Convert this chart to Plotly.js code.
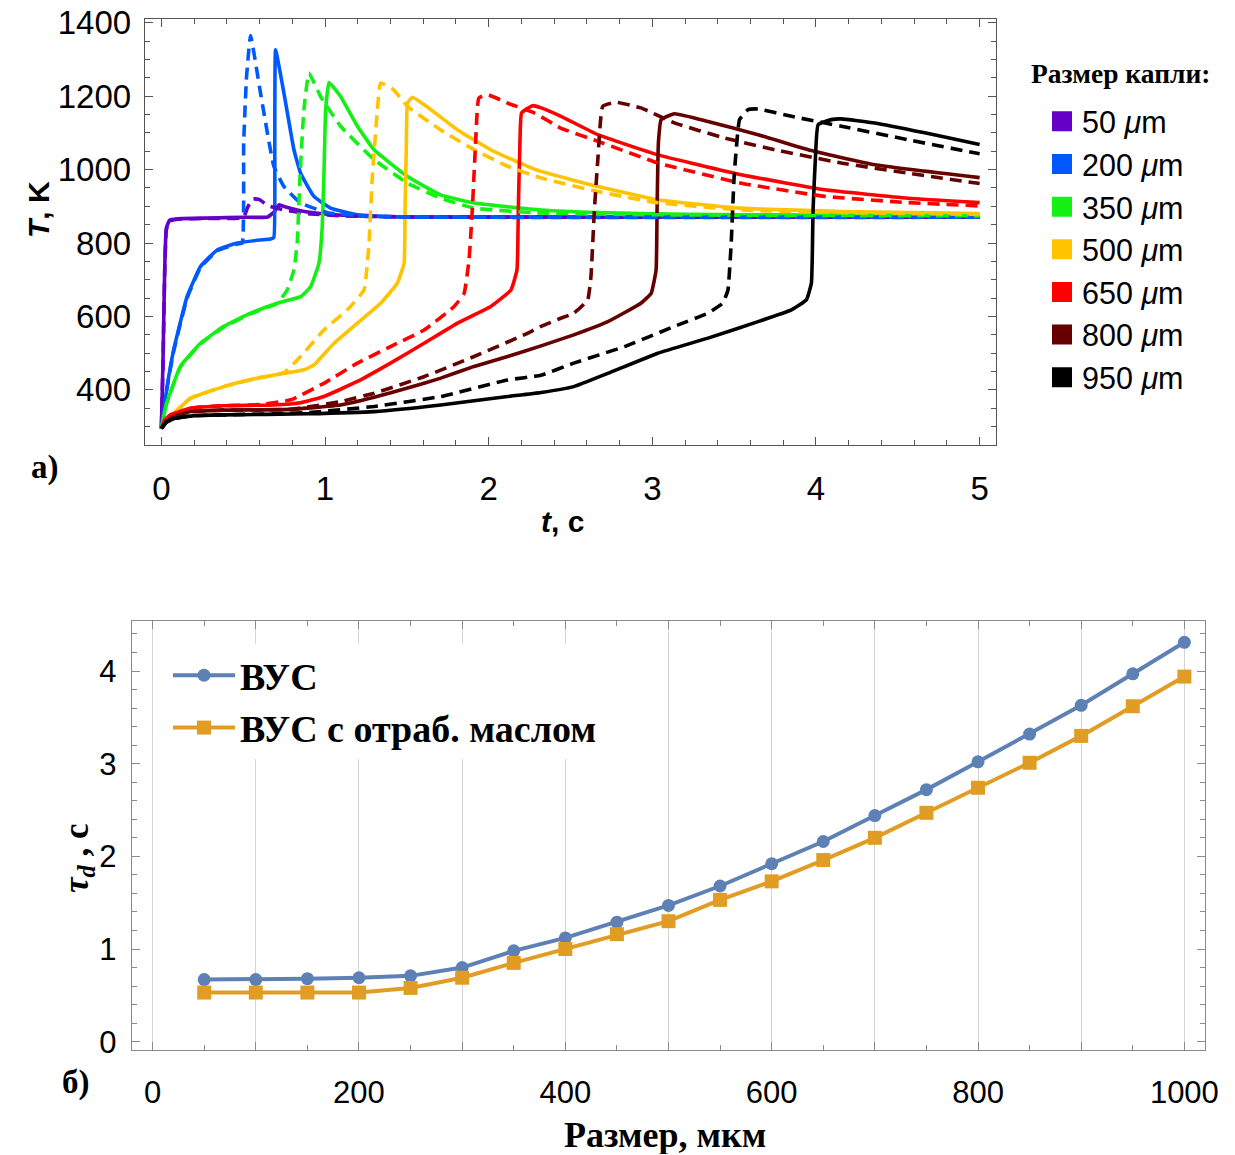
<!DOCTYPE html>
<html><head><meta charset="utf-8">
<script src="https://cdn.plot.ly/plotly-3.0.1.min.js"></script>
<style>html,body{margin:0;padding:0;background:#fff}</style>
</head><body><div id="chart" style="width:1235px;height:1155px"></div>
<script>
// ---------- Panel a) : droplet temperature vs time ----------
var sizes = ['50', '200', '350', '500', '650', '800', '950'];
var colors = ['#6400C8', '#0059FF', '#14F014', '#FFC300', '#FF0000', '#660000', '#000000'];

var t50s = [0, 0.01, 0.02, 0.03, 0.05, 0.1, 0.3, 0.5, 0.65, 0.69, 0.72, 0.76, 0.85, 1.0, 1.2, 1.5, 5.0];
var T50s = [295, 480, 720, 840, 862, 866, 868, 870, 871, 885, 904, 898, 888, 879, 874, 871, 870];
var t50d = [0, 0.01, 0.02, 0.03, 0.05, 0.1, 0.3, 0.5, 0.53, 0.56, 0.6, 0.65, 0.75, 0.9, 1.1, 1.5, 5.0];
var T50d = [295, 470, 710, 835, 860, 865, 867, 869, 900, 920, 918, 902, 890, 880, 874, 871, 870];

var t200s = [0, 0.035, 0.075, 0.157, 0.239, 0.341, 0.463, 0.6, 0.667, 0.687, 0.693, 0.698, 0.749, 0.81, 0.851, 0.932, 1.034, 1.2, 1.5, 2.0, 5.0];
var T200s = [295, 409, 509, 654, 736, 781, 800, 808, 811, 815, 1072, 1326, 1208, 1054, 990, 927, 895, 877, 871, 870, 870];
var t200d = [0, 0.035, 0.075, 0.157, 0.239, 0.341, 0.463, 0.494, 0.503, 0.52, 0.545, 0.606, 0.687, 0.749, 0.851, 1.02, 1.3, 2.0, 5.0];
var T200d = [295, 406, 505, 650, 733, 779, 797, 800, 1072, 1250, 1365, 1208, 1009, 954, 909, 882, 872, 870, 870];

var t350s = [0, 0.03, 0.116, 0.239, 0.381, 0.545, 0.708, 0.851, 0.912, 0.963, 0.983, 0.993, 1.004, 1.024, 1.095, 1.198, 1.30, 1.504, 1.707, 1.911, 2.32, 2.67, 3.2, 4.0, 5.0];
var T350s = [295, 360, 464, 527, 573, 609, 636, 654, 681, 745, 845, 981, 1163, 1237, 1199, 1118, 1054, 981, 931, 909, 890, 883, 878, 876, 875];
var t350d = [0, 0.03, 0.116, 0.239, 0.381, 0.545, 0.708, 0.769, 0.81, 0.83, 0.847, 0.871, 0.902, 0.973, 1.095, 1.30, 1.504, 1.707, 1.911, 2.3, 3.0, 4.0, 5.0];
var T350d = [295, 360, 462, 525, 571, 607, 636, 672, 727, 800, 981, 1163, 1263, 1199, 1118, 1027, 963, 922, 895, 882, 877, 875, 874];

var t500s = [0, 0.02, 0.055, 0.177, 0.381, 0.586, 0.749, 0.871, 0.932, 1.055, 1.198, 1.34, 1.442, 1.483, 1.489, 1.497, 1.504, 1.534, 1.605, 1.81, 2.013, 2.217, 2.32, 2.667, 3.03, 3.54, 4.155, 5.0];
var T500s = [295, 315, 327, 377, 409, 432, 445, 455, 468, 527, 582, 636, 691, 745, 890, 1072, 1181, 1197, 1177, 1108, 1054, 1013, 995, 954, 918, 895, 886, 880];
var t500d = [0, 0.02, 0.055, 0.177, 0.381, 0.586, 0.749, 0.851, 0.993, 1.136, 1.238, 1.269, 1.289, 1.32, 1.34, 1.42, 1.504, 1.707, 1.911, 2.116, 2.32, 2.667, 3.03, 3.54, 4.155, 5.0];
var T500d = [295, 315, 327, 377, 409, 432, 447, 491, 563, 618, 672, 800, 981, 1163, 1236, 1217, 1172, 1108, 1054, 1009, 977, 940, 910, 890, 883, 878];

var t650s = [0, 0.02, 0.055, 0.177, 0.381, 0.687, 0.851, 0.993, 1.198, 1.40, 1.605, 1.81, 2.013, 2.136, 2.173, 2.181, 2.191, 2.201, 2.268, 2.32, 2.442, 2.667, 3.034, 3.543, 4.053, 4.564, 5.0];
var T650s = [295, 318, 332, 350, 357, 359, 365, 382, 423, 473, 527, 582, 627, 672, 727, 890, 1072, 1154, 1174, 1168, 1145, 1095, 1040, 986, 945, 922, 910];
var t650d = [0, 0.02, 0.055, 0.177, 0.381, 0.6, 0.79, 0.993, 1.198, 1.40, 1.605, 1.789, 1.85, 1.88, 1.90, 1.92, 1.94, 1.993, 2.116, 2.28, 2.44, 2.667, 3.034, 3.543, 4.053, 4.564, 5.0];
var T650d = [295, 318, 332, 350, 357, 360, 373, 418, 473, 518, 563, 627, 663, 754, 890, 1072, 1195, 1204, 1181, 1154, 1113, 1077, 1018, 963, 927, 910, 901];

var t800s = [0, 0.03, 0.08, 0.177, 0.381, 0.79, 1.095, 1.30, 1.504, 1.707, 1.911, 2.116, 2.32, 2.52, 2.728, 2.93, 2.993, 3.023, 3.029, 3.037, 3.054, 3.135, 3.34, 3.646, 3.952, 4.36, 5.0];
var T800s = [295, 315, 328, 341, 345, 347, 359, 380, 405, 432, 464, 491, 520, 550, 586, 636, 663, 727, 890, 1072, 1136, 1152, 1131, 1095, 1054, 1013, 978];
var t800d = [0, 0.03, 0.08, 0.177, 0.381, 0.79, 1.095, 1.30, 1.605, 1.911, 2.217, 2.32, 2.44, 2.52, 2.605, 2.625, 2.646, 2.667, 2.697, 2.778, 2.93, 3.135, 3.44, 3.747, 4.155, 4.564, 5.0];
var T800d = [295, 315, 328, 341, 345, 347, 368, 391, 436, 491, 550, 573, 595, 609, 645, 709, 890, 1027, 1172, 1183, 1168, 1127, 1086, 1054, 1018, 990, 962];

var t950s = [0, 0.03, 0.08, 0.2, 0.381, 0.89, 1.30, 1.707, 2.116, 2.32, 2.52, 2.728, 3.034, 3.34, 3.646, 3.85, 3.941, 3.972, 3.982, 3.996, 4.013, 4.094, 4.155, 4.36, 4.665, 5.0];
var T950s = [295, 312, 322, 330, 332, 335, 341, 359, 382, 393, 409, 445, 500, 541, 586, 618, 645, 691, 890, 1027, 1122, 1136, 1138, 1127, 1100, 1068];
var t950d = [0, 0.03, 0.08, 0.2, 0.381, 0.89, 1.30, 1.707, 2.116, 2.32, 2.52, 2.83, 3.135, 3.34, 3.43, 3.462, 3.482, 3.50, 3.533, 3.585, 3.646, 3.85, 4.155, 4.564, 5.0];
var T950d = [295, 312, 322, 330, 332, 338, 355, 382, 427, 440, 473, 518, 573, 609, 636, 672, 800, 981, 1136, 1163, 1165, 1145, 1118, 1081, 1043];

var solidT = [[t50s, T50s], [t200s, T200s], [t350s, T350s], [t500s, T500s], [t650s, T650s], [t800s, T800s], [t950s, T950s]];
var dashT = [[t50d, T50d], [t200d, T200d], [t350d, T350d], [t500d, T500d], [t650d, T650d], [t800d, T800d], [t950d, T950d]];

// ---------- Panel б) : delay time vs droplet size ----------
var dropSize = [50, 100, 150, 200, 250, 300, 350, 400, 450, 500, 550, 600, 650, 700, 750, 800, 850, 900, 950, 1000];
var tauVUS = [0.67, 0.67, 0.68, 0.69, 0.71, 0.80, 0.98, 1.12, 1.29, 1.47, 1.68, 1.92, 2.16, 2.44, 2.72, 3.02, 3.32, 3.63, 3.97, 4.31];
var tauOil = [0.53, 0.53, 0.53, 0.53, 0.58, 0.69, 0.85, 1.00, 1.16, 1.30, 1.53, 1.73, 1.96, 2.20, 2.47, 2.74, 3.01, 3.30, 3.62, 3.94];
var seriesNames = ['ВУС', 'ВУС с отраб. маслом'];

// ---------- build ----------
var W = 1235, H = 1155;
function px(x) { return x / W; }
function py(y) { return 1 - y / H; }

var traces = [];
solidT.forEach(function (d, i) {
  traces.push({x: d[0], y: d[1], type: 'scatter', mode: 'lines', xaxis: 'x', yaxis: 'y',
    line: {color: colors[i], width: 3.6, shape: 'spline', smoothing: 0.35}, showlegend: false, hoverinfo: 'skip'});
});
dashT.forEach(function (d, i) {
  traces.push({x: d[0], y: d[1], type: 'scatter', mode: 'lines', xaxis: 'x', yaxis: 'y',
    line: {color: colors[i], width: 3.6, dash: '12px,7px', shape: 'spline', smoothing: 0.35}, showlegend: false, hoverinfo: 'skip'});
});
sizes.forEach(function (s, i) {
  traces.push({x: [null], y: [null], type: 'scatter', mode: 'markers', xaxis: 'x', yaxis: 'y',
    name: s + ' <i>μ</i>m', legend: 'legend',
    marker: {symbol: 'square', size: 16, color: colors[i], line: {color: colors[i], width: 4}}});
});
traces.push({x: dropSize, y: tauVUS, type: 'scatter', mode: 'lines+markers', xaxis: 'x2', yaxis: 'y2',
  name: '<b>' + seriesNames[0] + '</b>', legend: 'legend2',
  line: {color: '#5E81B5', width: 4}, marker: {symbol: 'circle', size: 13, color: '#5E81B5'}});
traces.push({x: dropSize, y: tauOil, type: 'scatter', mode: 'lines+markers', xaxis: 'x2', yaxis: 'y2',
  name: '<b>' + seriesNames[1] + '</b>', legend: 'legend2',
  line: {color: '#E19C24', width: 4}, marker: {symbol: 'square', size: 14, color: '#E19C24'}});

var sans = 'Liberation Sans, Arial, sans-serif';
var serif = 'Liberation Serif, Times New Roman, serif';
var frameTop = '#555555';
var frameBot = '#8a8a8a';

var layout = {
  width: W, height: H,
  margin: {l: 0, r: 0, t: 0, b: 0, autoexpand: false},
  paper_bgcolor: '#fff', plot_bgcolor: '#fff',
  showlegend: true,
  xaxis: {domain: [px(145), px(996)], anchor: 'y', range: [-0.1, 5.1],
    tickmode: 'linear', tick0: 0, dtick: 1, ticks: 'inside', ticklen: 8, tickwidth: 1, tickcolor: frameTop,
    showline: true, linecolor: frameTop, linewidth: 1.3, mirror: 'ticks', showgrid: false, zeroline: false,
    ticklabelstandoff: 14, automargin: false,
    tickfont: {family: sans, size: 33, color: '#000'},
    minor: {dtick: 0.2, ticks: 'inside', ticklen: 5, tickcolor: frameTop, showgrid: false}},
  yaxis: {domain: [py(445), py(19)], anchor: 'x', range: [250, 1410],
    tickmode: 'linear', tick0: 0, dtick: 200, ticks: 'inside', ticklen: 8, tickwidth: 1, tickcolor: frameTop,
    showline: true, linecolor: frameTop, linewidth: 1.3, mirror: 'ticks', showgrid: false, zeroline: false,
    ticklabelstandoff: 6, automargin: false,
    tickfont: {family: sans, size: 33, color: '#000'},
    minor: {dtick: 50, ticks: 'inside', ticklen: 5, tickcolor: frameTop, showgrid: false}},
  xaxis2: {domain: [px(132), px(1205)], anchor: 'y2', range: [-20, 1020],
    tickmode: 'linear', tick0: 0, dtick: 100, ticklabelstep: 2,
    ticks: 'inside', ticklen: 8, tickwidth: 1, tickcolor: frameBot,
    showline: true, linecolor: frameBot, linewidth: 1.3, mirror: 'ticks',
    showgrid: true, gridcolor: '#d4d4d4', gridwidth: 1, zeroline: false,
    ticklabelstandoff: 14, automargin: false,
    tickfont: {family: sans, size: 31, color: '#000'},
    minor: {dtick: 50, ticks: 'inside', ticklen: 5, tickcolor: frameBot, showgrid: false}},
  yaxis2: {domain: [py(1050), py(621)], anchor: 'x2', range: [-0.09, 4.54],
    tickmode: 'linear', tick0: 0, dtick: 1, ticks: 'inside', ticklen: 8, tickwidth: 1, tickcolor: frameBot,
    showline: true, linecolor: frameBot, linewidth: 1.3, mirror: 'ticks', showgrid: false, zeroline: false,
    ticklabelstandoff: 8, automargin: false,
    tickfont: {family: sans, size: 31, color: '#000'},
    minor: {dtick: 0.2, ticks: 'inside', ticklen: 5, tickcolor: frameBot, showgrid: false}},
  legend: {x: px(1042), xanchor: 'left', y: py(95), yanchor: 'top',
    bgcolor: 'rgba(0,0,0,0)', borderwidth: 0,
    font: {family: sans, size: 30.5, color: '#000'}, itemclick: false, itemdoubleclick: false},
  legend2: {x: px(168), xanchor: 'left', y: py(644), yanchor: 'top',
    bgcolor: '#ffffff', borderwidth: 0, itemwidth: 62,
    font: {family: serif, size: 38, color: '#000'}, itemclick: false, itemdoubleclick: false},
  annotations: [
    {text: '<b>Размер капли:</b>', xref: 'paper', yref: 'paper', x: px(1029), y: py(73), showarrow: false,
      xanchor: 'left', yanchor: 'middle', font: {family: serif, size: 27.5, color: '#000'}},
    {text: '<b><i>t</i>, c</b>', xref: 'paper', yref: 'paper', x: px(562), y: py(522), showarrow: false,
      xanchor: 'center', yanchor: 'middle', font: {family: sans, size: 30, color: '#000'}},
    {text: '<b><i>T</i>, K</b>', xref: 'paper', yref: 'paper', x: px(38), y: py(210), showarrow: false,
      textangle: -90, xanchor: 'center', yanchor: 'middle', font: {family: sans, size: 30, color: '#000'}},
    {text: '<b>a)</b>', xref: 'paper', yref: 'paper', x: px(45), y: py(467), showarrow: false,
      xanchor: 'center', yanchor: 'middle', font: {family: serif, size: 33, color: '#000'}},
    {text: '<b>Размер, мкм</b>', xref: 'paper', yref: 'paper', x: px(665), y: py(1135), showarrow: false,
      height: 38, xanchor: 'center', yanchor: 'middle', font: {family: serif, size: 36, color: '#000'}},
    {text: '<b><i>τ<sub>d</sub></i> , c</b>', xref: 'paper', yref: 'paper', x: px(78), y: py(858), showarrow: false,
      textangle: -90, xanchor: 'center', yanchor: 'middle', font: {family: serif, size: 35, color: '#000'}},
    {text: '<b>б)</b>', xref: 'paper', yref: 'paper', x: px(76), y: py(1082), showarrow: false,
      xanchor: 'center', yanchor: 'middle', font: {family: serif, size: 33, color: '#000'}}
  ]
};

Plotly.newPlot('chart', traces, layout, {displayModeBar: false, staticPlot: true});
</script>
</body></html>
